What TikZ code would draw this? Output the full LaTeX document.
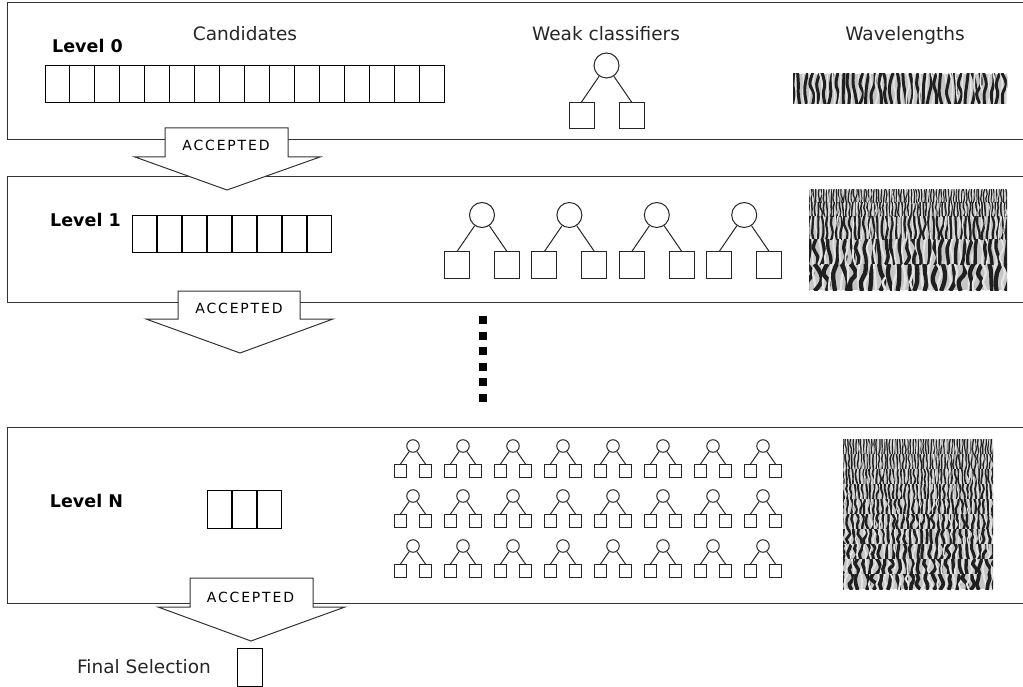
\documentclass[tikz,border=0pt]{standalone}
\usepackage{fontspec}
\setmainfont{DejaVu Sans}
\tikzset{
  boxline/.style={draw=black!80, line width=1pt},
  cell/.style={draw=black, line width=0.9pt, minimum width=24.94pt, minimum height=37pt, inner sep=0pt, outer sep=0pt, anchor=north west},
  bigroot/.style={circle, draw=black!85, line width=1pt, minimum size=25pt, inner sep=0pt},
  bigleaf/.style={rectangle, draw=black!85, line width=1pt, minimum width=25pt, minimum height=26pt, inner sep=0pt},
  smallroot/.style={circle, draw=black!85, line width=1pt, minimum size=12.5pt, inner sep=0pt},
  smallleaf/.style={rectangle, draw=black!85, line width=1pt, minimum width=12.5pt, minimum height=13pt, inner sep=0pt},
  treeedge/.style={draw=black!85, line width=1pt},
  accarrow/.style={draw=black!80, fill=white, line width=1pt, line join=miter},
  acctext/.style={font=\fontsize{14}{16}\selectfont\addfontfeature{LetterSpace=13}, anchor=base, inner sep=0pt},
  header/.style={font=\fontsize{18.5}{20}\selectfont, text=black!85, anchor=base, inner sep=0pt},
  levellabel/.style={font=\fontsize{17.5}{20}\selectfont\bfseries, anchor=base, inner sep=0pt},
  dotsq/.style={fill=black, minimum size=8pt, inner sep=0pt},
}
% textured band: x0, y0, w, h, period
\newcommand\waveband[5]{%
  \begin{scope}
    \clip (#1,#2) rectangle ++(#3,#4);
    \fill[gray!45] (#1,#2) rectangle ++(#3,#4);
    \pgfmathtruncatemacro\nstr{#3/#5+1}
    \foreach \i in {0,...,\nstr}{
      \pgfmathsetmacro\xa{#1+(\i+0.4*rand)*#5}
      \pgfmathsetmacro\xb{#1+(\i+0.4*rand)*#5}
      \pgfmathsetmacro\xc{#1+(\i+0.4*rand)*#5}
      \pgfmathsetmacro\xd{#1+(\i+0.4*rand)*#5}
      \draw[line width=0.48*#5, black!88] plot[smooth, tension=0.7] coordinates {(\xa,#2-1) (\xb,#2+#4*0.33) (\xc,#2+#4*0.67) (\xd,#2+#4+1)};
      \pgfmathsetmacro\xa{#1+(\i+0.5+0.3*rand)*#5}
      \pgfmathsetmacro\xb{#1+(\i+0.5+0.3*rand)*#5}
      \pgfmathsetmacro\xc{#1+(\i+0.5+0.3*rand)*#5}
      \pgfmathsetmacro\xd{#1+(\i+0.5+0.3*rand)*#5}
      \draw[line width=0.26*#5, white!90!black] plot[smooth, tension=0.7] coordinates {(\xa,#2-1) (\xb,#2+#4*0.33) (\xc,#2+#4*0.67) (\xd,#2+#4+1)};
    }
  \end{scope}}
% big tree: name, cx, cy
\newcommand\bigtree[3]{%
  \node[bigroot] (#1-r) at (#2,#3) {};
  \node[bigleaf] (#1-a) at (#2-25,#3+50) {};
  \node[bigleaf] (#1-b) at (#2+25,#3+50) {};
  \draw[treeedge] (#1-r) -- (#1-a.north);
  \draw[treeedge] (#1-r) -- (#1-b.north);}
% small tree: name, cx, cy
\newcommand\smalltree[3]{%
  \node[smallroot] (#1-r) at (#2,#3) {};
  \node[smallleaf] (#1-a) at (#2-12.5,#3+25) {};
  \node[smallleaf] (#1-b) at (#2+12.5,#3+25) {};
  \draw[treeedge] (#1-r) -- (#1-a.north);
  \draw[treeedge] (#1-r) -- (#1-b.north);}
\begin{document}
\begin{tikzpicture}[x=1pt, y=-1pt]
  \useasboundingbox (0,0) rectangle (1023,687);
  \clip (0,0) rectangle (1023,687);
  \fill[white] (0,0) rectangle (1023,687);
  \pgfmathsetseed{11}

  % level boxes
  \draw[boxline] (1030,3) -- (7,3) -- (7,140) -- (1030,140);
  \draw[boxline] (1030,177) -- (7,177) -- (7,302) -- (1030,302);
  \draw[boxline] (1030,427) -- (7,427) -- (7,603) -- (1030,603);

  % headers
  \node[header] (hcand) at (245,41) {Candidates};
  \node[header] (hweak) at (606,41) {Weak classifiers};
  \node[header] (hwave) at (905,41) {Wavelengths};

  % level labels
  \node[levellabel] (lab0) at (87.5,53) {Level 0};
  \node[levellabel] (lab1) at (85.5,227) {Level 1};
  \node[levellabel] (labN) at (86.5,507) {Level N};

  % candidate cells
  \foreach \i in {0,...,15} \node[cell] (c0-\i) at ({45+\i*24.94},65) {};
  \foreach \i in {0,...,7} \node[cell] (c1-\i) at ({132+\i*25},215) {};
  \foreach \i in {0,...,2} \node[cell, minimum height=38pt] (cN-\i) at ({207+\i*25},490) {};

  % weak classifiers
  \bigtree{t0}{606.5}{65.5}
  \foreach \i in {0,...,3} {\bigtree{t1\i}{482+87.4*\i}{215}}
  \foreach \i in {0,...,7} {\foreach \j in {0,1,2} {\smalltree{s\i\j}{413+50*\i}{446+50*\j}}}

  % wavelength images
  \waveband{793}{74}{214}{30}{6.2}
  \waveband{809}{190}{198}{13}{2.5}
  \waveband{809}{203}{198}{14}{3.1}
  \waveband{809}{217}{198}{23}{4.6}
  \waveband{809}{240}{198}{25}{7}
  \waveband{809}{265}{198}{25}{9}
  \foreach \k/\p in {0/2.6,1/3,2/3.4,3/3.9,4/4.4,5/5,6/5.6,7/6.2,8/6.9,9/7.6}
    {\waveband{843}{439+15*\k}{150}{15}{\p}}

  % vertical dots
  \foreach \k in {0,...,5} \node[dotsq] (d\k) at (482.5,{320+15.5*\k}) {};

  % accepted arrows
  \draw[accarrow] (165,128) -- (288,128) -- (288,157) -- (320,157) -- (227,190) -- (135,157) -- (165,157) -- cycle;
  \node[acctext] (acc0) at (226,151) {ACCEPTED};
  \draw[accarrow] (178,291) -- (300,291) -- (300,319) -- (333,319) -- (240,353) -- (146,319) -- (178,319) -- cycle;
  \node[acctext] (acc1) at (239,313) {ACCEPTED};
  \draw[accarrow] (190,578) -- (313,578) -- (313,607) -- (345,607) -- (251,641) -- (158,607) -- (190,607) -- cycle;
  \node[acctext] (accN) at (250.5,602) {ACCEPTED};

  % final selection
  \node[header] (final) at (144,673) {Final Selection};
  \node[draw=black, line width=1pt, minimum width=25pt, minimum height=38pt, inner sep=0pt, anchor=north west] (fsel) at (237,648) {};
\end{tikzpicture}
\end{document}
